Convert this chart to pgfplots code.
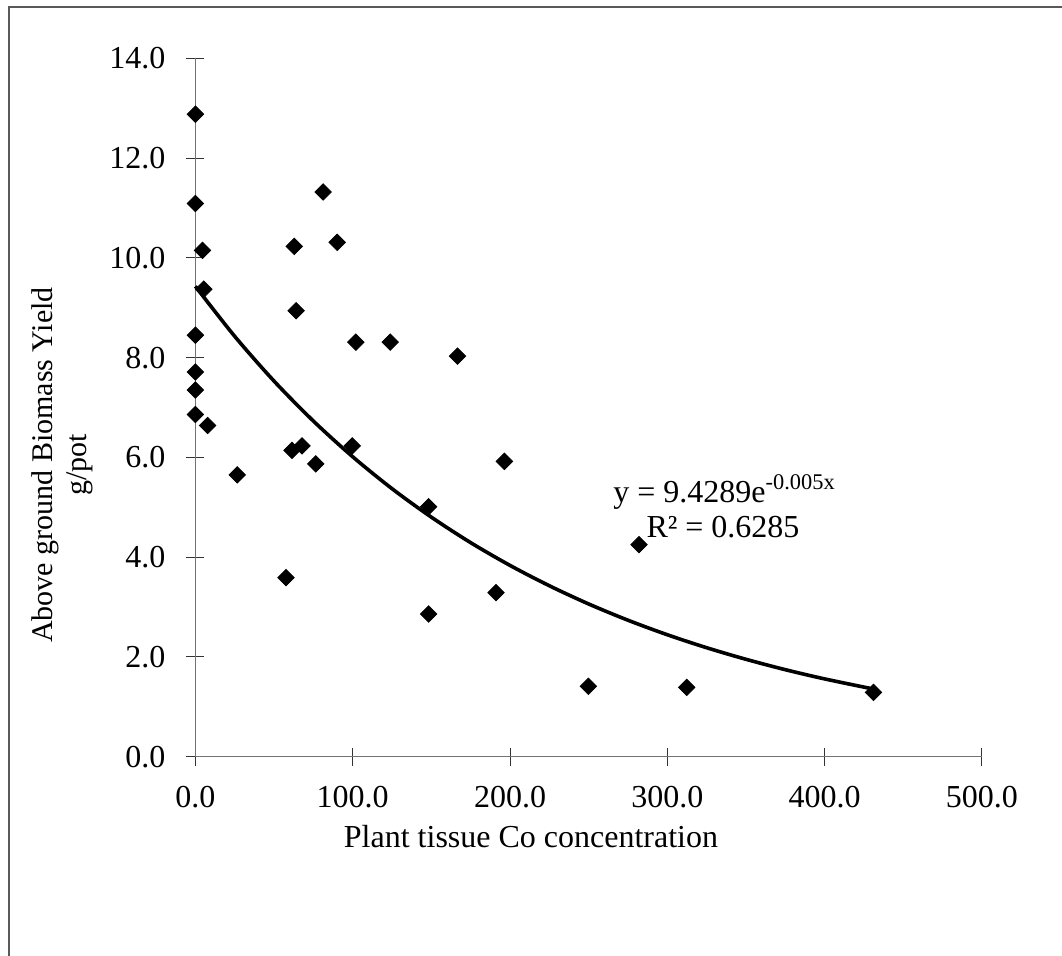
\documentclass[border=0pt]{standalone}
\usepackage{fontspec}
\setmainfont{Liberation Serif}
\usepackage{pgfplots}
\pgfplotsset{compat=1.18}

\begin{document}
\begin{tikzpicture}[font=\fontsize{16}{18}\selectfont]
% page extent and the outer chart frame (left and top edges)
\path[use as bounding box] (0pt,0pt) rectangle (531pt,478pt);
\draw[black!65, line width=1pt] (4.5pt,0pt) -- (4.5pt,474.5pt) -- (531pt,474.5pt);

\begin{axis}[
  at={(97.7pt,99.65pt)}, anchor=south west,
  scale only axis, width=393.3pt, height=349.2pt,
  xmin=0, xmax=500, ymin=0, ymax=14,
  axis lines=left,
  axis line style={-, black!55, line width=0.7pt},
  xtick={0,100,...,500}, ytick={0,2,...,14},
  tick align=center, major tick length=9pt,
  tick style={black!80, line width=0.5pt},
  ticklabel style={font=\fontsize{16}{18}\selectfont},
  yticklabel style={xshift=-7pt},
  xticklabel style={anchor=north, yshift=-6.5pt},
  /pgf/number format/.cd, fixed, fixed zerofill, precision=1,
  assume math mode=true, 1000 sep={},
  /pgfplots/.cd,
  clip=false,
]
% exponential trend line
\addplot[black, line width=1.8pt, smooth, no marks] coordinates {
  (0,9.429) (25,8.426) (50,7.529) (75,6.728) (100,6.012) (125,5.372)
  (150,4.801) (175,4.290) (200,3.834) (225,3.426) (250,3.061)
  (275,2.735) (300,2.444) (325,2.184) (350,1.952) (375,1.744)
  (400,1.559) (431,1.356)
};
% observed yields
\addplot[only marks, mark=square*, mark size=2.9pt,
  mark options={rotate=45, fill=black, draw=black}] coordinates {
  (0,12.88) (0,11.09) (4.5,10.15) (81.2,11.32) (62.8,10.23) (90.1,10.31)
  (5.3,9.37) (64.0,8.94) (0,8.45) (102.0,8.31) (123.8,8.31) (166.6,8.03)
  (0,7.71) (0,7.35) (0,6.86) (7.8,6.64) (61.4,6.14) (67.8,6.23)
  (76.5,5.87) (26.6,5.65) (99.7,6.23) (148.2,5.01) (57.6,3.59)
  (148.2,2.86) (196.4,5.92) (282.0,4.25) (191.1,3.29) (249.8,1.41)
  (312.3,1.39) (431.0,1.29)
};
\node[anchor=base west, inner sep=0pt] at (axis cs:265.5,5.105)
  {y = 9.4289e\textsuperscript{-0.005x}};
\node[anchor=base west, inner sep=0pt] at (axis cs:286.5,4.40)
  {R² = 0.6285};
\end{axis}

\node[anchor=base] at (265.5pt,54pt) {Plant tissue Co concentration};
\node[rotate=90, align=center, font=\fontsize{15}{17}\selectfont]
  at (31pt,245.5pt) {Above ground Biomass Yield\\g/pot};
\end{tikzpicture}
\end{document}
